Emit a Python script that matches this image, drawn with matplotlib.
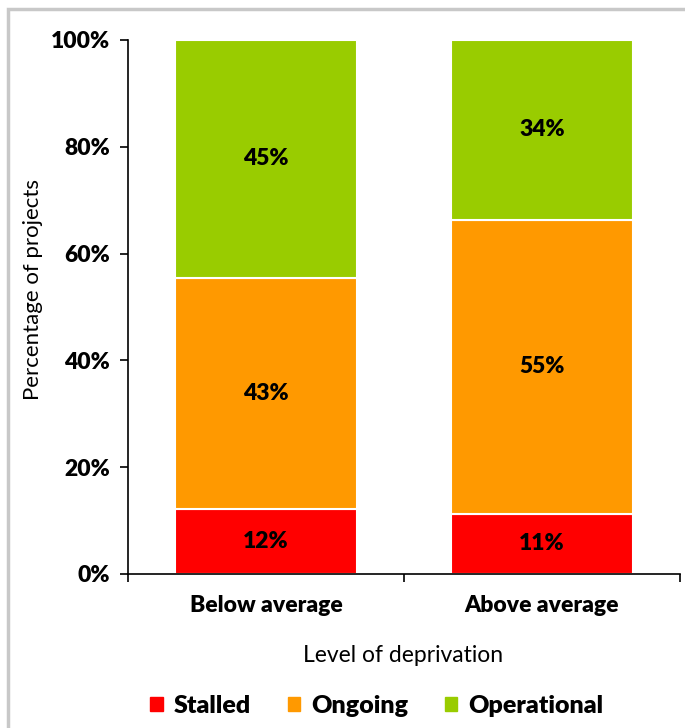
import matplotlib
matplotlib.use("Agg")
import matplotlib.pyplot as plt
from matplotlib.patches import Rectangle
from matplotlib.ticker import PercentFormatter

categories = ["Below average", "Above average"]
stalled = [12.2, 11.3]
ongoing = [43.3, 55.0]
operational = [44.5, 33.7]
stalled_labels = ["12%", "11%"]
ongoing_labels = ["43%", "55%"]
operational_labels = ["45%", "34%"]
series_names = ["Stalled", "Ongoing", "Operational"]
colors = ["#FF0000", "#FF9900", "#99CC00"]

plt.rcParams['font.family'] = ['Lato', 'DejaVu Sans']
BW = "heavy"
FS = 16.5

W, H = 685, 728
fig = plt.figure(figsize=(W/100, H/100), dpi=100)
ax = fig.add_axes([128/W, 1-574/H, (680-128)/W, (574-40)/H])

# figure border
fig.patches.append(Rectangle((8/W, -0.05), 1.2, 1-9/H+0.05, transform=fig.transFigure,
                             fill=False, edgecolor="#C8C8C8", linewidth=2.5, zorder=0))

x = list(range(len(categories)))
width = 0.66
bottom = [0]*len(x)
for vals, labs, col in [(stalled, stalled_labels, colors[0]),
                        (ongoing, ongoing_labels, colors[1]),
                        (operational, operational_labels, colors[2])]:
    bars = ax.bar(x, vals, width, bottom=bottom, color=col, edgecolor="white", linewidth=1.5)
    for b, lab in zip(bars, labs):
        ax.text(b.get_x()+b.get_width()/2, b.get_y()+b.get_height()/2, lab,
                ha="center", va="center", fontsize=FS, fontweight=BW, color="black")
    bottom = [b0+v for b0, v in zip(bottom, vals)]

ax.set_xlim(-0.5, 1.5)
ax.set_ylim(0, 100)
ax.set_yticks([0, 20, 40, 60, 80, 100])
ax.yaxis.set_major_formatter(PercentFormatter(decimals=0))
ax.set_xticks(x)
ax.set_xticklabels(categories, fontsize=FS, fontweight=BW)
ax.tick_params(axis="x", length=0, pad=15)
ax.set_xticks([-0.5, 0.5, 1.5], minor=True)
ax.tick_params(axis="x", which="minor", length=6, width=1.2, direction="out")
ax.tick_params(axis="y", length=6, width=1.2, direction="out", labelsize=FS, pad=7)
for lab in ax.get_yticklabels():
    lab.set_fontweight(BW)
for s in ["top", "right"]:
    ax.spines[s].set_visible(False)
ax.spines["left"].set_linewidth(1.2)
ax.spines["bottom"].set_linewidth(1.2)

ax.set_ylabel("Percentage of projects", fontsize=16, va="center")
ax.yaxis.set_label_coords((33-128)/(680-128), (574-290)/(574-40))
ax.set_xlabel("Level of deprivation", fontsize=16.5, va="center")
ax.xaxis.set_label_coords((403-128)/(680-128), -(655-574)/(574-40))

handles = [Rectangle((0, 0), 1, 1, color=c) for c in colors]
leg = fig.legend(handles, series_names, loc="center", bbox_to_anchor=(377/W, 1-706/H),
                 ncol=3, frameon=False, prop={"weight": BW, "size": 18},
                 handlelength=0.5, handleheight=0.5, columnspacing=1.45, handletextpad=0.45)

fig.savefig("out.png", dpi=100)
